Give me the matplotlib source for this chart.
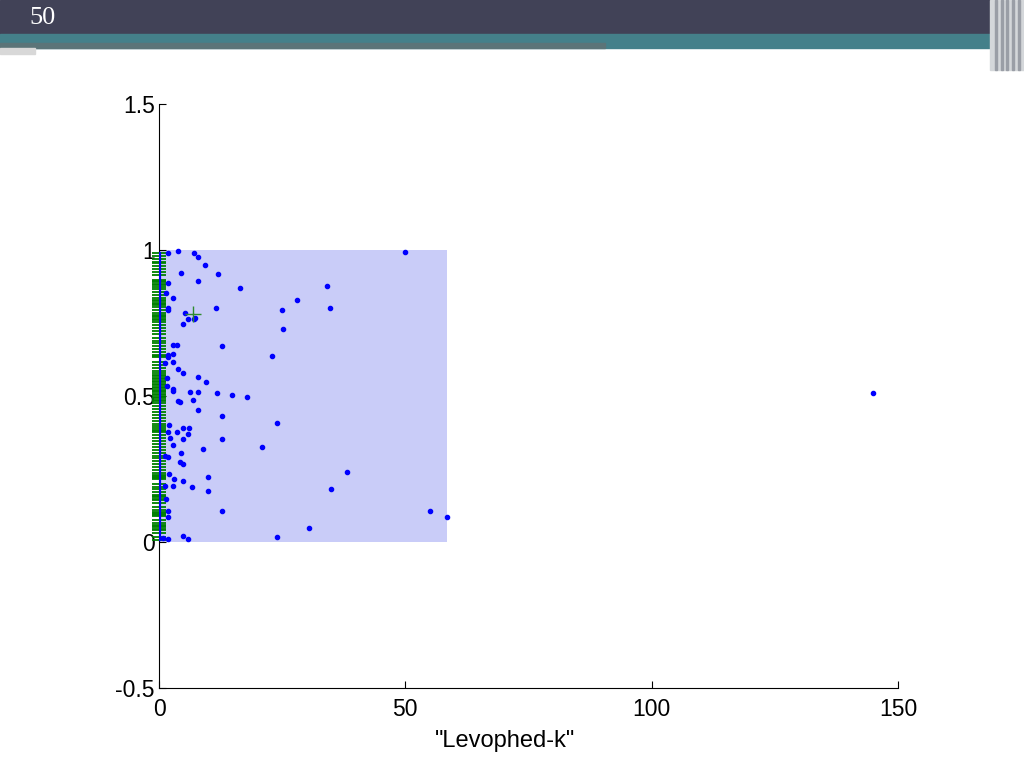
import numpy as np
import matplotlib
matplotlib.use('Agg')
import matplotlib.pyplot as plt
from matplotlib.patches import Rectangle

plt.rcParams['font.family'] = ['Liberation Sans', 'DejaVu Sans']

# scattered points (Levophed-k, y)
pts_x = [1.89, 3.92, 7.17, 7.98, 9.40, 4.40, 12.04, 7.85, 1.89, 16.44, 1.42, 2.91,
         1.76, 1.89, 11.57, 5.28, 5.95, 7.10, 7.31, 4.80, 24.97, 27.94, 34.10, 34.71,
         25.24, 50.0, 2.91, 3.59, 12.72, 22.94, 1.89, 2.77, 1.89, 1.22, 2.77, 3.79,
         4.94, 7.85, 9.54, 1.56, 1.56, 2.91, 2.91, 6.29, 7.85, 11.84, 14.82, 17.86,
         3.92, 4.26, 6.83, 7.85, 12.86, 23.88, 2.10, 1.89, 3.59, 4.80, 6.16, 5.82,
         4.80, 2.30, 12.86, 2.91, 8.86, 20.91, 4.40, 1.22, 1.76, 4.26, 4.80, 38.16,
         2.10, 3.11, 4.80, 9.95, 1.22, 2.77, 6.63, 9.88, 34.98, 1.42, 12.86, 55.0,
         58.5, 1.89, 1.89, 30.45, 23.88, 4.80, 5.95, 1.89, 0.88, 144.9]
pts_y = [0.991, 0.997, 0.991, 0.975, 0.950, 0.920, 0.918, 0.895, 0.886, 0.869, 0.852, 0.837,
         0.800, 0.795, 0.800, 0.785, 0.763, 0.763, 0.766, 0.745, 0.796, 0.829, 0.877, 0.803,
         0.728, 0.992, 0.675, 0.675, 0.672, 0.638, 0.640, 0.643, 0.632, 0.612, 0.618, 0.591,
         0.578, 0.566, 0.548, 0.563, 0.535, 0.523, 0.517, 0.515, 0.513, 0.510, 0.503, 0.498,
         0.483, 0.481, 0.485, 0.452, 0.432, 0.406, 0.400, 0.378, 0.378, 0.389, 0.389, 0.370,
         0.353, 0.356, 0.353, 0.332, 0.318, 0.326, 0.306, 0.295, 0.292, 0.275, 0.266, 0.241,
         0.232, 0.216, 0.209, 0.221, 0.192, 0.192, 0.189, 0.175, 0.180, 0.146, 0.106, 0.107,
         0.087, 0.106, 0.087, 0.047, 0.016, 0.021, 0.009, 0.010, 0.013, 0.510]

# values sitting at (almost) zero on the x axis, shown as a rug
rug_y = [0.99, 0.98, 0.97, 0.96, 0.955, 0.945, 0.935, 0.925, 0.915,
         0.897, 0.893, 0.889, 0.885, 0.881,
         0.874, 0.865, 0.855, 0.845, 0.836,
         0.828, 0.824, 0.820, 0.816, 0.812,
         0.805, 0.795, 0.785, 0.778,
         0.773, 0.769, 0.765, 0.761,
         0.752, 0.742, 0.733, 0.722, 0.712, 0.700, 0.690, 0.680, 0.670, 0.660, 0.650,
         0.640, 0.636, 0.632,
         0.617, 0.607, 0.597, 0.587, 0.578,
         0.572, 0.567, 0.562, 0.557, 0.552, 0.547, 0.542, 0.537, 0.532, 0.527,
         0.522, 0.517, 0.512, 0.507, 0.502, 0.497, 0.492, 0.487, 0.482, 0.477,
         0.465, 0.455, 0.445, 0.435, 0.425, 0.415, 0.405, 0.396,
         0.389, 0.385, 0.381, 0.377,
         0.366, 0.356, 0.346, 0.336, 0.326, 0.316, 0.306, 0.296, 0.286, 0.276, 0.266, 0.256, 0.248,
         0.235, 0.231, 0.227, 0.223, 0.219, 0.215,
         0.200, 0.190, 0.180, 0.170,
         0.161, 0.157, 0.153, 0.148, 0.144,
         0.132, 0.120, 0.110,
         0.104, 0.100, 0.096, 0.092, 0.088,
         0.075, 0.064,
         0.058, 0.054, 0.050, 0.046, 0.042,
         0.030, 0.018, 0.008]
rug_x = 0.0
near_zero_x = 0.2

# shaded range and the centre marker
box_x = [0, 58.5]
box_y = [0, 1]
centre = (6.84, 0.781)

fig = plt.figure(figsize=(10.24, 7.68), dpi=100)

# slide decoration
fig.patches.append(Rectangle((0, 1 - 34/768), 1, 34/768, transform=fig.transFigure,
                             color='#414257', zorder=0))
fig.patches.append(Rectangle((0, 1 - 48/768), 1, 14/768, transform=fig.transFigure,
                             color='#44808a', zorder=0))
fig.patches.append(Rectangle((0, 1 - 48/768), 605/1024, 5/768, transform=fig.transFigure,
                             color='#5b7478', zorder=0))
fig.patches.append(Rectangle((0, 1 - 54/768), 35/1024, 6/768, transform=fig.transFigure,
                             color='#d8d8d8', zorder=0))
fig.patches.append(Rectangle((990/1024, 1 - 70/768), 34/1024, 70/768, transform=fig.transFigure,
                             color='#d4d7da', zorder=0))
for xx in [995, 1001, 1006, 1012, 1018]:
    fig.patches.append(Rectangle((xx/1024, 1 - 70/768), 2/1024, 70/768,
                                 transform=fig.transFigure, color='#9a9ea6', zorder=1))
fig.text(29/1024, 1 - 18/768, '50', color='white', fontsize=19,
         family='Liberation Serif', va='center', ha='left')

ax = fig.add_axes([159/1024, 1 - 688/768, 739/1024, 584/768])
ax.add_patch(Rectangle((box_x[0], box_y[0]), box_x[1] - box_x[0], box_y[1] - box_y[0],
                       facecolor='#c9ccf8', edgecolor='none', zorder=1))
ax.plot([rug_x] * len(rug_y), rug_y, linestyle='none', marker='_', markersize=10.5,
        markeredgewidth=1.3, color='#008000', zorder=3, clip_on=False)
ax.plot([near_zero_x] * len(rug_y), rug_y, color='#0000ff', lw=1.6, zorder=4)
ax.plot(pts_x, pts_y, linestyle='none', marker='o', markersize=3.0,
        color='#0000ff', zorder=4)
ax.plot([centre[0]], [centre[1]], linestyle='none', marker='+', markersize=11,
        markeredgewidth=1.0, color='#2e8b2e', zorder=5)

ax.set_xlim(0, 150)
ax.set_ylim(-0.5, 1.5)
ax.set_xticks([0, 50, 100, 150])
ax.set_yticks([-0.5, 0, 0.5, 1, 1.5])
ax.set_yticklabels(['-0.5', '0', '0.5', '1', '1.5'])
ax.tick_params(direction='in', length=5, labelsize=16.5, width=0.8, pad=3)
ax.tick_params(axis='x', pad=7)
ax.spines['top'].set_visible(False)
ax.spines['right'].set_visible(False)
ax.set_xlabel('"Levophed-k"', fontsize=17)
ax.xaxis.set_label_coords(0.468, -0.072)

fig.savefig('out.png', dpi=100)
